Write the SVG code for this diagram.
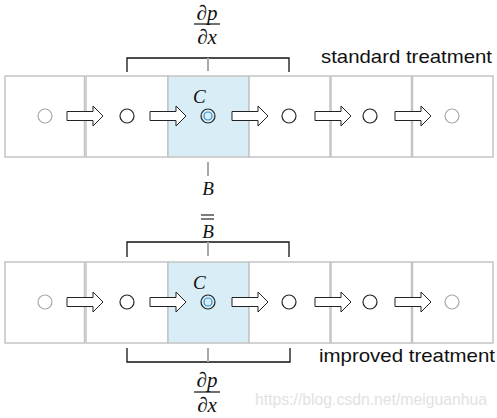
<svg xmlns="http://www.w3.org/2000/svg" width="497" height="418" viewBox="0 0 497 418">
<defs>
<style>
.cell{fill:#fff;stroke:#c4c4c4;stroke-width:1.5}
.hl{fill:#d8edf6;stroke:#c4c4c4;stroke-width:1.5}
.pt{fill:none;stroke:#222;stroke-width:1.2}
.ptg{fill:none;stroke:#a8a8a8;stroke-width:1.2}
.arr{fill:#fff;stroke:#222;stroke-width:1}
.br{fill:none;stroke:#111;stroke-width:1.3}
.tick{stroke:#aaa;stroke-width:2}
.m{font-family:"Liberation Serif",serif;font-size:19px;fill:#111}
.fr{font-size:21px}
.mi{font-style:italic}
.lbl{font-family:"Liberation Sans",Arial,sans-serif;font-size:18.5px;fill:#111}
.wm{font-family:"Liberation Sans",Arial,sans-serif;font-size:17px;fill:#e2e2e2}
</style>
<path id="arrow" class="arr" d="M0,-4.5 H26 V-10 L36,0 L26,10 V4.5 H0 Z"/>
</defs>

<g id="row-standard">
<g id="s-cell1"><rect class="cell" x="5" y="76" width="79.5" height="81"/><circle class="ptg" cx="45" cy="116" r="7"/></g>
<g id="s-cell2"><rect class="cell" x="86" y="76" width="82" height="81"/><circle class="pt" cx="127" cy="116" r="7"/></g>
<g id="s-cell3"><rect class="hl" x="168" y="76" width="81" height="81"/><circle class="pt" cx="208" cy="116" r="7"/><circle cx="208" cy="116" r="4" fill="none" stroke="#2a8fd6" stroke-width="1.2"/><text class="m mi" x="193" y="103" font-size="18px">C</text></g>
<g id="s-cell4"><rect class="cell" x="249" y="76" width="81" height="81"/><circle class="pt" cx="289" cy="116" r="7"/></g>
<g id="s-cell5"><rect class="cell" x="331" y="76" width="80.5" height="81"/><circle class="pt" cx="370" cy="116" r="7"/></g>
<g id="s-cell6"><rect class="cell" x="412.5" y="76" width="80.5" height="81"/><circle class="ptg" cx="452" cy="116" r="7"/></g>
</g>

<g id="row-improved">
<g id="i-cell1"><rect class="cell" x="5" y="262" width="79.5" height="81"/><circle class="ptg" cx="45" cy="302" r="7"/></g>
<g id="i-cell2"><rect class="cell" x="86" y="262" width="82" height="81"/><circle class="pt" cx="127" cy="302" r="7"/></g>
<g id="i-cell3"><rect class="hl" x="168" y="262" width="81" height="81"/><circle class="pt" cx="208" cy="302" r="7"/><circle cx="208" cy="302" r="4" fill="none" stroke="#2a8fd6" stroke-width="1.2"/><text class="m mi" x="193" y="289" font-size="18px">C</text></g>
<g id="i-cell4"><rect class="cell" x="249" y="262" width="81" height="81"/><circle class="pt" cx="289" cy="302" r="7"/></g>
<g id="i-cell5"><rect class="cell" x="331" y="262" width="80.5" height="81"/><circle class="pt" cx="370" cy="302" r="7"/></g>
<g id="i-cell6"><rect class="cell" x="412.5" y="262" width="80.5" height="81"/><circle class="ptg" cx="452" cy="302" r="7"/></g>
</g>

<g id="connectors">
<use href="#arrow" x="67" y="116"/>
<use href="#arrow" x="150" y="116"/>
<use href="#arrow" x="232" y="116"/>
<use href="#arrow" x="315" y="116"/>
<use href="#arrow" x="395" y="116"/>
<use href="#arrow" x="67" y="302"/>
<use href="#arrow" x="150" y="302"/>
<use href="#arrow" x="232" y="302"/>
<use href="#arrow" x="315" y="302"/>
<use href="#arrow" x="395" y="302"/>
</g>

<g id="brackets">
<path class="br" d="M127,72 V58 H289 V72"/>
<line class="tick" x1="208" y1="58" x2="208" y2="71"/>
<line class="tick" x1="208" y1="162" x2="208" y2="176"/>
<path class="br" d="M127,257 V242 H289 V257"/>
<line class="tick" x1="208" y1="242" x2="208" y2="256"/>
<path class="br" d="M127,348 V362 H290 V348"/>
<line class="tick" x1="208" y1="348" x2="208" y2="362"/>
</g>

<g id="labels">
<text class="m fr" x="207" y="20" text-anchor="middle">∂<tspan class="mi">p</tspan></text>
<line x1="194" y1="24" x2="220" y2="24" stroke="#111" stroke-width="1.2"/>
<text class="m fr" x="207" y="44" text-anchor="middle">∂<tspan class="mi">x</tspan></text>
<text class="m mi" x="208" y="195" text-anchor="middle">B</text>
<line x1="201" y1="215" x2="214" y2="215" stroke="#111" stroke-width="1.1"/>
<line x1="201" y1="219" x2="214" y2="219" stroke="#111" stroke-width="1.1"/>
<text class="m mi" x="208" y="238" text-anchor="middle">B</text>
<text class="m fr" x="207" y="387" text-anchor="middle">∂<tspan class="mi">p</tspan></text>
<line x1="194" y1="392" x2="220" y2="392" stroke="#111" stroke-width="1.2"/>
<text class="m fr" x="207" y="412" text-anchor="middle">∂<tspan class="mi">x</tspan></text>
<text class="lbl" x="321" y="62.5" textLength="171" lengthAdjust="spacingAndGlyphs">standard treatment</text>
<text class="lbl" x="319" y="361.5" textLength="176" lengthAdjust="spacingAndGlyphs">improved treatment</text>
<text class="wm" x="255" y="405" textLength="232" lengthAdjust="spacingAndGlyphs">https://blog.csdn.net/meiguanhua</text>
</g>
</svg>
